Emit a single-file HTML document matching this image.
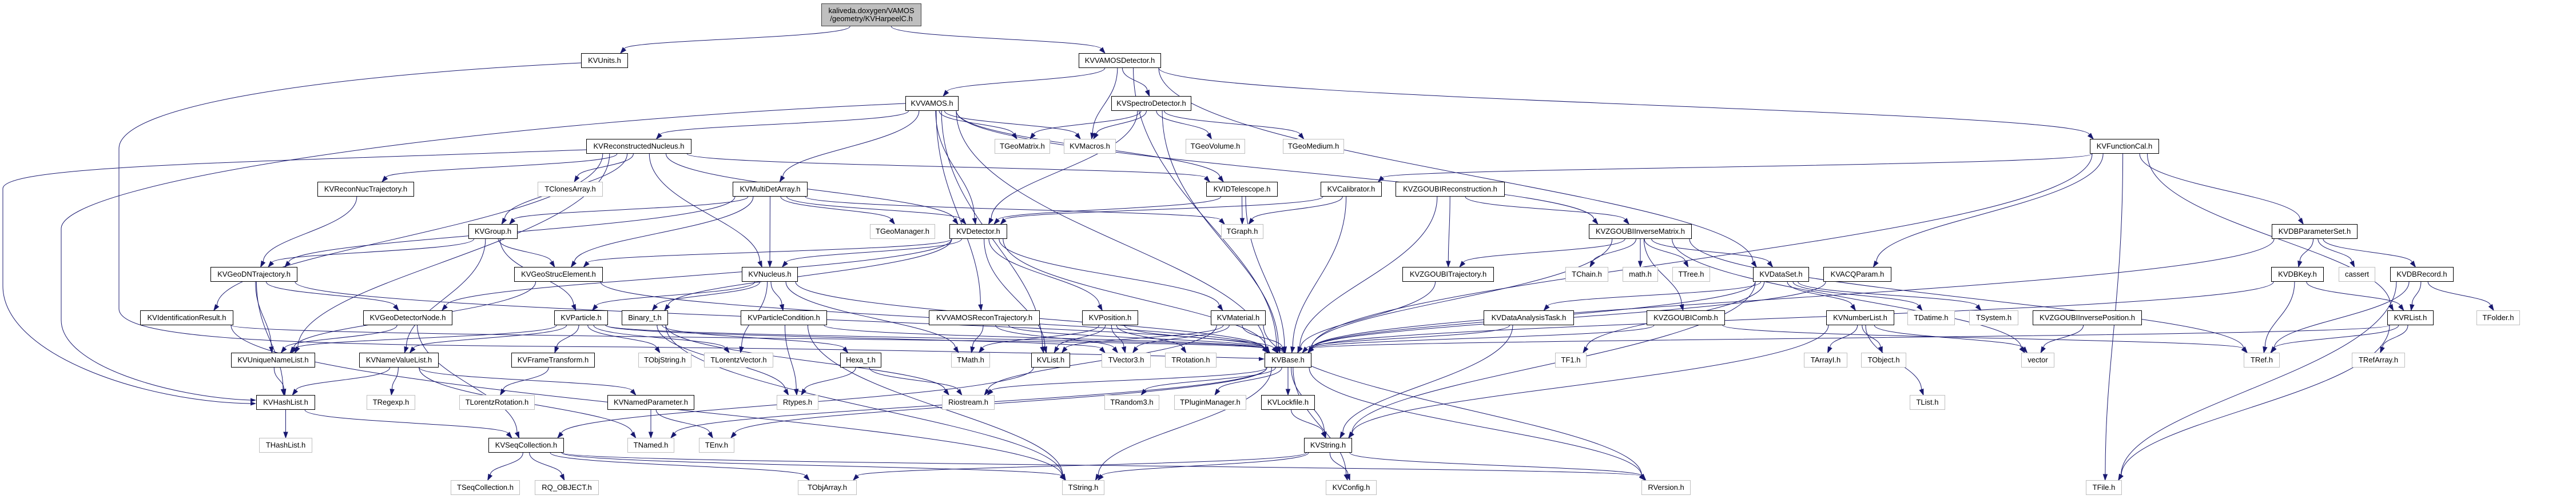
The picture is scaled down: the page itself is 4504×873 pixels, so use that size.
<!DOCTYPE html>
<html><head><meta charset="utf-8">
<style>
html,body{margin:0;padding:0;background:#fff;}
body{width:4504px;height:873px;position:relative;overflow:hidden;font-family:"Liberation Sans",Arial,sans-serif;}
svg{position:absolute;left:0;top:0;}
.n{position:absolute;box-sizing:border-box;height:26px;border:1px solid #000;background:#fff;font-size:13px;line-height:24px;text-align:center;white-space:nowrap;color:#000;}
.g{border-color:#bfbfbf;}
.root{background:#bfbfbf;height:40px;line-height:14px;padding-top:5px;border-color:#404040;}
</style></head><body>
<svg id="s" width="4504" height="873"></svg>
<div class="n root" id="root" style="left:1436px;top:6px;width:175px">kaliveda.doxygen/VAMOS<br>/geometry/KVHarpeelC.h</div>

<div class="n" id="KVUnits" style="left:1016px;top:93px;width:82px">KVUnits.h</div>
<div class="n" id="KVVAMOSDetector" style="left:1886px;top:93px;width:144px">KVVAMOSDetector.h</div>

<div class="n" id="KVVAMOS" style="left:1583px;top:168px;width:93px">KVVAMOS.h</div>
<div class="n" id="KVSpectroDetector" style="left:1943px;top:168px;width:140px">KVSpectroDetector.h</div>

<div class="n" id="KVReconstructedNucleus" style="left:1025px;top:243px;width:184px">KVReconstructedNucleus.h</div>
<div class="n g" id="TGeoMatrix" style="left:1739px;top:243px;width:97px">TGeoMatrix.h</div>
<div class="n g" id="KVMacros" style="left:1860px;top:243px;width:91px">KVMacros.h</div>
<div class="n g" id="TGeoVolume" style="left:2073px;top:243px;width:104px">TGeoVolume.h</div>
<div class="n g" id="TGeoMedium" style="left:2243px;top:243px;width:107px">TGeoMedium.h</div>
<div class="n" id="KVFunctionCal" style="left:3654px;top:243px;width:121px">KVFunctionCal.h</div>

<div class="n" id="KVReconNucTrajectory" style="left:555px;top:318px;width:169px">KVReconNucTrajectory.h</div>
<div class="n g" id="TClonesArray" style="left:940px;top:318px;width:114px">TClonesArray.h</div>
<div class="n" id="KVMultiDetArray" style="left:1281px;top:318px;width:131px">KVMultiDetArray.h</div>
<div class="n" id="KVIDTelescope" style="left:2109px;top:318px;width:125px">KVIDTelescope.h</div>
<div class="n" id="KVCalibrator" style="left:2309px;top:318px;width:107px">KVCalibrator.h</div>
<div class="n" id="KVZGOUBIReconstruction" style="left:2440px;top:318px;width:191px">KVZGOUBIReconstruction.h</div>

<div class="n" id="KVGroup" style="left:819px;top:392px;width:86px">KVGroup.h</div>
<div class="n g" id="TGeoManager" style="left:1521px;top:392px;width:114px">TGeoManager.h</div>
<div class="n" id="KVDetector" style="left:1660px;top:392px;width:101px">KVDetector.h</div>
<div class="n g" id="TGraph" style="left:2135px;top:392px;width:74px">TGraph.h</div>
<div class="n" id="KVZGOUBIInverseMatrix" style="left:2778px;top:392px;width:180px">KVZGOUBIInverseMatrix.h</div>
<div class="n" id="KVDBParameterSet" style="left:3972px;top:392px;width:150px">KVDBParameterSet.h</div>

<div class="n" id="KVGeoDNTrajectory" style="left:368px;top:467px;width:152px">KVGeoDNTrajectory.h</div>
<div class="n" id="KVGeoStrucElement" style="left:899px;top:467px;width:155px">KVGeoStrucElement.h</div>
<div class="n" id="KVNucleus" style="left:1297px;top:467px;width:98px">KVNucleus.h</div>
<div class="n" id="KVZGOUBITrajectory" style="left:2452px;top:467px;width:160px">KVZGOUBITrajectory.h</div>
<div class="n g" id="TChain" style="left:2737px;top:467px;width:75px">TChain.h</div>
<div class="n g" id="math" style="left:2837px;top:467px;width:62px">math.h</div>
<div class="n g" id="TTree" style="left:2924px;top:467px;width:66px">TTree.h</div>
<div class="n" id="KVDataSet" style="left:3065px;top:467px;width:98px">KVDataSet.h</div>
<div class="n" id="KVACQParam" style="left:3188px;top:467px;width:119px">KVACQParam.h</div>
<div class="n" id="KVDBKey" style="left:3971px;top:467px;width:92px">KVDBKey.h</div>
<div class="n g" id="cassert" style="left:4089px;top:467px;width:64px">cassert</div>
<div class="n" id="KVDBRecord" style="left:4179px;top:467px;width:111px">KVDBRecord.h</div>

<div class="n" id="KVIdentificationResult" style="left:245px;top:543px;width:163px">KVIdentificationResult.h</div>
<div class="n" id="KVGeoDetectorNode" style="left:635px;top:543px;width:156px">KVGeoDetectorNode.h</div>
<div class="n" id="KVParticle" style="left:969px;top:543px;width:94px">KVParticle.h</div>
<div class="n" id="Binary_t" style="left:1087px;top:543px;width:81px">Binary_t.h</div>
<div class="n" id="KVParticleCondition" style="left:1295px;top:543px;width:151px">KVParticleCondition.h</div>
<div class="n" id="KVVAMOSReconTrajectory" style="left:1624px;top:543px;width:194px">KVVAMOSReconTrajectory.h</div>
<div class="n" id="KVPosition" style="left:1892px;top:543px;width:98px">KVPosition.h</div>
<div class="n" id="KVMaterial" style="left:2117px;top:543px;width:96px">KVMaterial.h</div>
<div class="n" id="KVDataAnalysisTask" style="left:2594px;top:543px;width:158px">KVDataAnalysisTask.h</div>
<div class="n" id="KVZGOUBIComb" style="left:2879px;top:543px;width:137px">KVZGOUBIComb.h</div>
<div class="n" id="KVNumberList" style="left:3193px;top:543px;width:119px">KVNumberList.h</div>
<div class="n g" id="TDatime" style="left:3335px;top:543px;width:83px">TDatime.h</div>
<div class="n g" id="TSystem" style="left:3443px;top:543px;width:86px">TSystem.h</div>
<div class="n" id="KVZGOUBIInversePosition" style="left:3554px;top:543px;width:191px">KVZGOUBIInversePosition.h</div>
<div class="n" id="KVRList" style="left:4174px;top:543px;width:81px">KVRList.h</div>
<div class="n g" id="TFolder" style="left:4330px;top:543px;width:76px">TFolder.h</div>

<div class="n" id="KVUniqueNameList" style="left:404px;top:617px;width:147px">KVUniqueNameList.h</div>
<div class="n" id="KVNameValueList" style="left:628px;top:617px;width:139px">KVNameValueList.h</div>
<div class="n" id="KVFrameTransform" style="left:894px;top:617px;width:146px">KVFrameTransform.h</div>
<div class="n g" id="TObjString" style="left:1116px;top:617px;width:93px">TObjString.h</div>
<div class="n g" id="TLorentzVector" style="left:1231px;top:617px;width:121px">TLorentzVector.h</div>
<div class="n" id="Hexa_t" style="left:1469px;top:617px;width:72px">Hexa_t.h</div>
<div class="n g" id="TMath" style="left:1663px;top:617px;width:68px">TMath.h</div>
<div class="n" id="KVList" style="left:1803px;top:617px;width:68px">KVList.h</div>
<div class="n g" id="TVector3" style="left:1926px;top:617px;width:86px">TVector3.h</div>
<div class="n g" id="TRotation" style="left:2037px;top:617px;width:90px">TRotation.h</div>
<div class="n" id="KVBase" style="left:2211px;top:617px;width:82px">KVBase.h</div>
<div class="n g" id="TF1" style="left:2719px;top:617px;width:55px">TF1.h</div>
<div class="n g" id="TArrayI" style="left:3154px;top:617px;width:76px">TArrayI.h</div>
<div class="n g" id="TObject" style="left:3254px;top:617px;width:79px">TObject.h</div>
<div class="n g" id="vector" style="left:3534px;top:617px;width:58px">vector</div>
<div class="n g" id="TRef" style="left:3923px;top:617px;width:63px">TRef.h</div>
<div class="n g" id="TRefArray" style="left:4112px;top:617px;width:93px">TRefArray.h</div>

<div class="n" id="KVHashList" style="left:448px;top:691px;width:103px">KVHashList.h</div>
<div class="n g" id="TRegexp" style="left:641px;top:691px;width:85px">TRegexp.h</div>
<div class="n g" id="TLorentzRotation" style="left:803px;top:691px;width:132px">TLorentzRotation.h</div>
<div class="n" id="KVNamedParameter" style="left:1062px;top:691px;width:152px">KVNamedParameter.h</div>
<div class="n g" id="Rtypes" style="left:1358px;top:691px;width:73px">Rtypes.h</div>
<div class="n g" id="Riostream" style="left:1647px;top:691px;width:92px">Riostream.h</div>
<div class="n g" id="TRandom3" style="left:1931px;top:691px;width:96px">TRandom3.h</div>
<div class="n g" id="TPluginManager" style="left:2053px;top:691px;width:126px">TPluginManager.h</div>
<div class="n" id="KVLockfile" style="left:2205px;top:691px;width:94px">KVLockfile.h</div>
<div class="n g" id="TList" style="left:3339px;top:691px;width:62px">TList.h</div>

<div class="n g" id="THashList" style="left:453px;top:766px;width:93px">THashList.h</div>
<div class="n" id="KVSeqCollection" style="left:854px;top:766px;width:132px">KVSeqCollection.h</div>
<div class="n g" id="TNamed" style="left:1097px;top:766px;width:82px">TNamed.h</div>
<div class="n g" id="TEnv" style="left:1222px;top:766px;width:62px">TEnv.h</div>
<div class="n" id="KVString" style="left:2280px;top:766px;width:84px">KVString.h</div>

<div class="n g" id="TSeqCollection" style="left:788px;top:840px;width:121px">TSeqCollection.h</div>
<div class="n g" id="RQ_OBJECT" style="left:935px;top:840px;width:112px">RQ_OBJECT.h</div>
<div class="n g" id="TObjArray" style="left:1395px;top:840px;width:103px">TObjArray.h</div>
<div class="n g" id="TString" style="left:1857px;top:840px;width:74px">TString.h</div>
<div class="n g" id="KVConfig" style="left:2318px;top:840px;width:89px">KVConfig.h</div>
<div class="n g" id="RVersion" style="left:2870px;top:840px;width:86px">RVersion.h</div>
<div class="n g" id="TFile" style="left:3647px;top:840px;width:63px">TFile.h</div>

<script>
var E={
root:"KVUnits KVVAMOSDetector",
KVVAMOSDetector:"KVVAMOS KVSpectroDetector KVMacros KVFunctionCal KVDataSet KVBase",
KVVAMOS:"KVReconstructedNucleus TGeoMatrix KVMacros KVMultiDetArray KVDetector KVIDTelescope KVList KVBase KVZGOUBIInverseMatrix KVVAMOSReconTrajectory",
KVSpectroDetector:"TGeoMatrix KVMacros TGeoVolume TGeoMedium KVDetector KVBase",
KVReconstructedNucleus:"KVReconNucTrajectory TClonesArray KVGroup KVIdentificationResult KVNucleus KVDetector KVIDTelescope KVUniqueNameList",
KVFunctionCal:"KVCalibrator KVDBParameterSet KVACQParam KVBase TFile KVRList",
KVMultiDetArray:"KVNucleus TGeoManager KVDetector TGraph KVGeoDNTrajectory KVGeoStrucElement KVGroup",
KVIDTelescope:"TGraph KVDetector KVBase",
KVCalibrator:"KVDetector KVBase TGraph",
KVZGOUBIReconstruction:"KVZGOUBITrajectory KVZGOUBIInverseMatrix KVBase",
KVReconNucTrajectory:"KVGeoDNTrajectory",
KVGroup:"KVGeoDNTrajectory KVGeoStrucElement KVNameValueList KVParticle",
KVDetector:"KVNucleus KVPosition KVMaterial KVGeoDetectorNode Binary_t KVList KVBase KVGeoStrucElement",
KVZGOUBIInverseMatrix:"KVZGOUBITrajectory TChain math TTree KVDataSet KVZGOUBIComb KVBase vector TRef",
KVDBParameterSet:"KVDBKey cassert KVDBRecord KVBase",
KVGeoDNTrajectory:"KVUniqueNameList KVGeoDetectorNode KVHashList KVBase",
KVGeoStrucElement:"KVUniqueNameList KVBase",
KVNucleus:"KVParticleCondition KVParticle Binary_t KVBase TLorentzVector TMath",
KVZGOUBITrajectory:"KVBase",
KVDataSet:"KVDataAnalysisTask KVNumberList TDatime KVBase KVString TF1 TSystem",
KVACQParam:"KVBase",
KVDBKey:"TRef KVRList KVBase",
KVDBRecord:"KVRList TFolder TRef TFile",
KVIdentificationResult:"KVBase TString",
KVGeoDetectorNode:"KVUniqueNameList KVSeqCollection",
KVParticle:"KVUniqueNameList KVNameValueList KVFrameTransform TVector3 TObjString TLorentzVector KVBase",
Binary_t:"Rtypes TString Riostream Hexa_t",
KVParticleCondition:"KVBase TString Rtypes",
KVVAMOSReconTrajectory:"TMath KVBase TVector3",
KVPosition:"TVector3 TRotation KVBase KVList TMath",
KVMaterial:"KVBase KVList TVector3 RVersion Riostream",
KVDataAnalysisTask:"KVBase KVString",
KVZGOUBIComb:"KVBase TRef",
KVNumberList:"TArrayI TObject TList KVString vector",
KVZGOUBIInversePosition:"vector",
KVRList:"TRefArray TRef TFile KVBase",
KVUniqueNameList:"KVHashList",
KVNameValueList:"KVHashList TRegexp KVNamedParameter TNamed",
KVFrameTransform:"TLorentzRotation",
Hexa_t:"Rtypes Riostream",
KVList:"KVSeqCollection",
KVBase:"TRandom3 TPluginManager KVLockfile Riostream KVString KVConfig RVersion TString TNamed TEnv",
KVHashList:"THashList KVSeqCollection",
KVNamedParameter:"TNamed TEnv",
KVLockfile:"KVString",
KVSeqCollection:"TSeqCollection RQ_OBJECT TObjArray TString RVersion",
KVString:"KVConfig RVersion TString TObjArray"
};
var NS="http://www.w3.org/2000/svg",s=document.getElementById("s"),col="#191970";
function box(id){var e=document.getElementById(id);return {x:e.offsetLeft,y:e.offsetTop,w:e.offsetWidth,h:e.offsetHeight};}
var out="";
function hArrow(x2,y2,dir){var bx=x2-dir*10;return '<polygon points="'+x2+","+y2+" "+bx+","+(y2-3.5)+" "+bx+","+(y2+3.5)+'" fill="'+col+'"/>';}
// manually routed long edges
out+='<path d="M1016,110 C600,130 208,180 208,260 L208,540 C208,595 500,604 1100,607 C1600,612 2000,622 2201,627" fill="none" stroke="'+col+'"/>'+hArrow(2211,628,1);
out+='<path d="M1583,181 C800,215 107,320 107,400 L107,560 C107,640 300,695 438,700" fill="none" stroke="'+col+'"/>'+hArrow(448,700,1);
out+='<path d="M1025,262 C400,285 5,290 5,330 L5,500 C5,620 250,703 438,706" fill="none" stroke="'+col+'"/>'+hArrow(448,706,1);
for(var a in E){var A=box(a);E[a].split(" ").forEach(function(b){var B=box(b);
 var x1,y1,x2,y2,d;
 var acx=A.x+A.w/2,bcx=B.x+B.w/2;
 if(B.y>A.y+A.h){
  x1=acx+Math.max(-A.w/2+4,Math.min(A.w/2-4,(bcx-acx)*0.08));y1=A.y+A.h;
  x2=bcx+Math.max(-B.w/2+6,Math.min(B.w/2-6,(acx-bcx)*0.06));y2=B.y;
  var dy=y2-y1;
  var c1y=y1+dy*0.45;
  var sx=x2-x1,sy=y2-y1,SL=Math.hypot(sx,sy);
  var vx=sx/SL*0.5,vy=sy/SL*0.5+0.5,L=Math.hypot(vx,vy);vx/=L;vy/=L;
  var bx=x2-vx*10,by=y2-vy*10;
  d="M"+x1+","+y1+" C"+x1+","+c1y+" "+(bx)+","+(by-dy*0.35)+" "+bx+","+by;
  out+='<path d="'+d+'" fill="none" stroke="'+col+'" stroke-width="1"/>';
  out+='<polygon points="'+x2+","+y2+" "+(bx-vy*3.5)+","+(by+vx*3.5)+" "+(bx+vy*3.5)+","+(by-vx*3.5)+'" fill="'+col+'" stroke="'+col+'"/>';
 } else {
  if(bcx>acx){x1=A.x+A.w;x2=B.x;}else{x1=A.x;x2=B.x+B.w;}
  y1=A.y+A.h/2;y2=B.y+B.h/2;
  var dir=x2>x1?1:-1,bx2=x2-dir*10;
  out+='<path d="M'+x1+","+y1+" C"+(x1+(bx2-x1)*0.5)+","+y1+" "+(x1+(bx2-x1)*0.5)+","+y2+" "+bx2+","+y2+'" fill="none" stroke="'+col+'" stroke-width="1"/>';
  out+=hArrow(x2,y2,dir);
 }
});}
s.innerHTML=out;
</script>
</body></html>
